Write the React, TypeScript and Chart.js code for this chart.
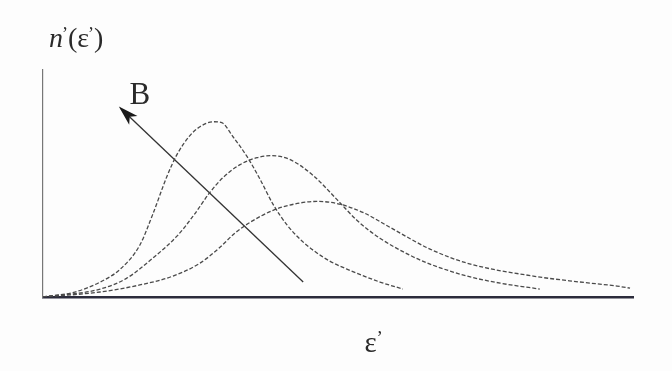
import React, { useEffect, useRef } from "react";
import { Chart, registerables } from "chart.js";

Chart.register(...registerables);

// Curve 1 (highest, narrowest peak)
const curve1X = [0, 0.54, 0.97, 1.31, 1.64, 1.86, 2.1, 2.27, 2.49, 2.66, 2.88, 3.03, 3.22, 3.46, 3.68, 3.9, 4.14, 4.36, 4.58, 4.86, 5.15, 5.71, 6.1];
const curve1Y = [0, 0.22, 0.66, 1.23, 2.28, 3.64, 5.31, 6.27, 7.11, 7.5, 7.72, 7.68, 7.06, 6.18, 5.18, 4.08, 3.16, 2.54, 2.06, 1.58, 1.23, 0.66, 0.35];
// Curve 2 (middle)
const curve2X = [0, 0.97, 1.42, 1.86, 2.27, 2.54, 2.83, 3.05, 3.34, 3.63, 3.88, 4.19, 4.58, 4.98, 5.32, 5.71, 6.22, 6.56, 7.19, 7.75, 8.42];
const curve2Y = [0, 0.35, 0.83, 1.71, 2.68, 3.55, 4.61, 5.26, 5.83, 6.14, 6.23, 6.05, 5.35, 4.3, 3.38, 2.59, 1.84, 1.45, 0.92, 0.61, 0.35];
// Curve 3 (lowest, widest)
const curve3X = [0, 0.97, 1.64, 2.2, 2.66, 3.0, 3.25, 3.51, 3.9, 4.31, 4.64, 4.98, 5.42, 5.88, 6.56, 7.19, 8.31, 9.1, 9.73, 9.95];
const curve3Y = [0, 0.22, 0.53, 0.92, 1.49, 2.19, 2.81, 3.29, 3.82, 4.12, 4.21, 4.12, 3.73, 3.07, 2.11, 1.49, 0.92, 0.66, 0.48, 0.39];
// Arrow "B" (from tail to head)
const arrowX = [4.41, 1.31];
const arrowY = [0.66, 8.33];
const arrowLabel = "B";
const arrowLabelPos = [1.64, 8.88];
// Axis labels
const yAxisLabel = { base: "n", prime: "’", arg: "ε" };
const xAxisLabel = { base: "ε", prime: "’" };
const xLabelValue = 5.6;

const toPoints = (xs: number[], ys: number[]) => xs.map((x, i) => ({ x, y: ys[i] }));

const SERIF = '"Liberation Serif", "DejaVu Serif", serif';

const annotPlugin = {
  id: "annot",
  beforeDraw(chart: any) {
    const ctx = chart.ctx;
    ctx.save();
    ctx.fillStyle = "#fdfdfd";
    ctx.fillRect(0, 0, chart.width, chart.height);
    ctx.restore();
  },
  afterDatasetsDraw(chart: any) {
    const ctx = chart.ctx;
    const xs = chart.scales.x;
    const ys = chart.scales.y;
    const meta = chart.getDatasetMeta(3);
    const p0 = meta.data[0];
    const p1 = meta.data[1];
    const ang = Math.atan2(p1.y - p0.y, p1.x - p0.x);
    ctx.save();
    ctx.translate(p1.x, p1.y);
    ctx.rotate(ang);
    ctx.beginPath();
    ctx.moveTo(2, 0);
    ctx.lineTo(-18, -6);
    ctx.lineTo(-13, 0);
    ctx.lineTo(-18, 6);
    ctx.closePath();
    ctx.fillStyle = "#1a1a1a";
    ctx.fill();
    ctx.restore();

    // B label
    ctx.save();
    ctx.fillStyle = "#2a2a2a";
    ctx.font = `31px ${SERIF}`;
    ctx.textAlign = "center";
    ctx.textBaseline = "middle";
    ctx.fillText(arrowLabel, xs.getPixelForValue(arrowLabelPos[0]), ys.getPixelForValue(arrowLabelPos[1]));
    ctx.restore();

    // Y axis label n'(ε')
    const ca = chart.chartArea;
    ctx.save();
    ctx.fillStyle = "#2a2a2a";
    ctx.textBaseline = "alphabetic";
    ctx.textAlign = "left";
    let x = ca.left + 6;
    const base = ca.top - 23;
    ctx.font = `italic 28px ${SERIF}`;
    ctx.fillText(yAxisLabel.base, x, base);
    x += ctx.measureText(yAxisLabel.base).width - 1;
    ctx.font = `18px ${SERIF}`;
    ctx.fillText(yAxisLabel.prime, x, base - 7);
    x += ctx.measureText(yAxisLabel.prime).width;
    ctx.font = `28px ${SERIF}`;
    ctx.fillText("(", x, base);
    x += ctx.measureText("(").width;
    ctx.fillText(yAxisLabel.arg, x, base);
    x += ctx.measureText(yAxisLabel.arg).width - 1;
    ctx.font = `18px ${SERIF}`;
    ctx.fillText(yAxisLabel.prime, x, base - 7);
    x += ctx.measureText(yAxisLabel.prime).width;
    ctx.font = `28px ${SERIF}`;
    ctx.fillText(")", x, base);

    // X axis label ε'
    let xx = xs.getPixelForValue(xLabelValue) - 9;
    const xb = ca.bottom + 55;
    ctx.font = `29px ${SERIF}`;
    ctx.fillText(xAxisLabel.base, xx, xb);
    xx += ctx.measureText(xAxisLabel.base).width;
    ctx.font = `19px ${SERIF}`;
    ctx.fillText(xAxisLabel.prime, xx, xb - 8);
    ctx.restore();
  },
};

export default function App() {
  const ref = useRef<HTMLCanvasElement | null>(null);
  useEffect(() => {
    document.body.style.margin = "0";
    if (!ref.current) return;
    const dashed = (xs: number[], ys: number[]) => ({
      data: toPoints(xs, ys),
      borderColor: "#4a4a4a",
      borderWidth: 1.3,
      borderDash: [4, 2],
      pointRadius: 0,
      cubicInterpolationMode: "monotone" as const,
      fill: false,
    });
    const chart = new Chart(ref.current, {
      type: "line",
      data: {
        datasets: [
          dashed(curve1X, curve1Y),
          dashed(curve2X, curve2Y),
          dashed(curve3X, curve3Y),
          {
            data: toPoints(arrowX, arrowY),
            borderColor: "#333",
            borderWidth: 1.3,
            pointRadius: 0,
            tension: 0,
            fill: false,
          },
        ],
      },
      options: {
        animation: false,
        responsive: false,
        events: [],
        layout: { padding: { left: 43, right: 39, top: 70, bottom: 74 } },
        plugins: { legend: { display: false }, tooltip: { enabled: false }, title: { display: false } },
        scales: {
          x: {
            type: "linear",
            min: 0,
            max: 10,
            grid: { display: false, drawTicks: false, tickLength: 0 },
            ticks: { display: false, padding: 0 },
            border: { display: true, color: "#2c2c3c", width: 2.5 },
          },
          y: {
            type: "linear",
            min: 0,
            max: 10,
            grid: { display: false, drawTicks: false, tickLength: 0 },
            ticks: { display: false, padding: 0 },
            border: { display: true, color: "#777", width: 1.2 },
          },
        },
      },
      plugins: [annotPlugin],
    });
    return () => chart.destroy();
  }, []);
  return (
    <div style={{ position: "fixed", left: 0, top: 0, width: 672, height: 371 }}>
      <canvas ref={ref} width={672} height={371} style={{ display: "block" }} />
    </div>
  );
}
